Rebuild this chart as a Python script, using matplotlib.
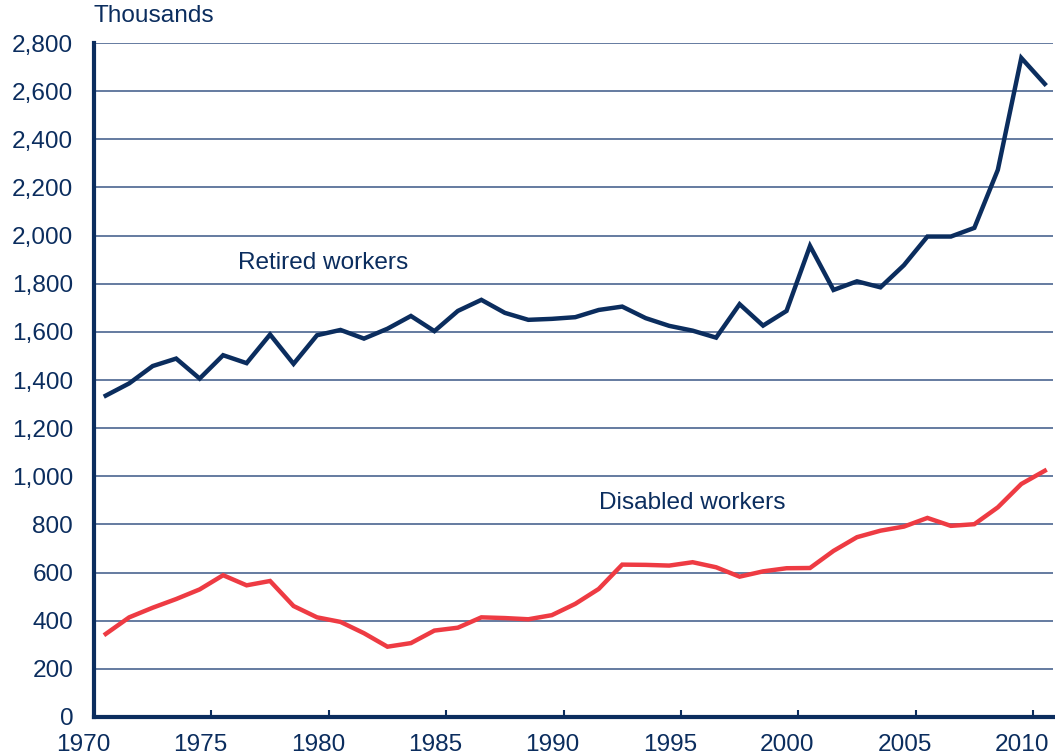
import matplotlib
matplotlib.use("Agg")
import matplotlib.pyplot as plt
import matplotlib.transforms as mtransforms
import numpy as np

plt.rcParams['font.family'] = ['Liberation Sans', 'DejaVu Sans']

# award year (plotted at mid-year)
years = np.arange(1970, 2011)

# thousands of awards
retired = [1335, 1386, 1458, 1489, 1406, 1503, 1470, 1589, 1467, 1586,
           1608, 1572, 1613, 1666, 1603, 1687, 1733, 1679, 1650, 1654,
           1661, 1691, 1705, 1657, 1625, 1605, 1576, 1715, 1626, 1687,
           1957, 1774, 1810, 1785, 1877, 1996, 1996, 2032, 2273, 2738,
           2630]
disabled = [345, 414, 454, 490, 530, 589, 547, 565, 461, 414,
            395, 348, 292, 307, 359, 371, 414, 411, 406, 423,
            470, 532, 633, 632, 629, 643, 622, 583, 605, 618,
            619, 690, 747, 774, 791, 827, 794, 801, 871, 968,
            1023]

navy = '#0b2d5e'
red = '#ee3b43'
grid = '#4a6590'
fs = 17.6

fig = plt.figure(figsize=(10.55, 7.56), dpi=100)
ax = fig.add_axes([0.0891, 0.0516, 0.909, 0.8915])

x = years + 0.5
ax.plot(x, retired, color=navy, lw=3.2, solid_joinstyle='miter', zorder=3)
ax.plot(x, disabled, color=red, lw=3.2, solid_joinstyle='miter', zorder=3)

ax.set_xlim(1970, 2010.85)
ax.set_ylim(0, 2800)
ax.set_yticks(np.arange(0, 2801, 200))
ax.set_yticklabels([f'{v:,}' for v in range(0, 2801, 200)])
ax.set_xticks(np.arange(1970, 2011, 5))

for y in range(200, 2801, 200):
    ax.axhline(y, color=grid, lw=1.2, zorder=1)

for s in ['top', 'right']:
    ax.spines[s].set_visible(False)
ax.spines['left'].set_color(navy)
ax.spines['left'].set_linewidth(3)
ax.spines['bottom'].set_color(navy)
ax.spines['bottom'].set_linewidth(3)

ax.tick_params(axis='y', length=0, pad=15, labelsize=fs, labelcolor=navy)
ax.tick_params(axis='x', direction='in', length=5, width=1.5, color=navy,
               pad=12, labelsize=fs, labelcolor=navy)

# x labels sit a little left of their ticks in the original
offset = mtransforms.ScaledTranslation(-0.11, 0, fig.dpi_scale_trans)
for lab in ax.get_xticklabels():
    lab.set_transform(lab.get_transform() + offset)

fig.text(93 / 1055, 1 - 16 / 756, 'Thousands', fontsize=fs, color=navy,
         ha='left', va='center')
fig.text(238 / 1055, 1 - 263 / 756, 'Retired workers', fontsize=fs,
         color=navy, ha='left', va='center')
fig.text(599 / 1055, 1 - 503 / 756, 'Disabled workers', fontsize=fs,
         color=navy, ha='left', va='center')

fig.savefig('out.png', dpi=100)
